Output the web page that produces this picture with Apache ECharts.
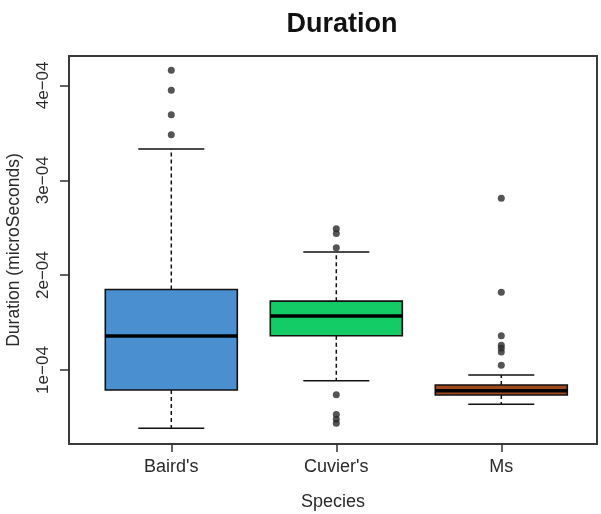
<!DOCTYPE html>
<html>
<head>
<meta charset="utf-8">
<title>Duration</title>
<script src="https://cdn.jsdelivr.net/npm/echarts@6/dist/echarts.min.js"></script>
<style>
  html, body { margin: 0; padding: 0; background: #fff; }
  #chart { width: 601px; height: 514px; }
</style>
</head>
<body>
<div id="chart"></div>
<script>
// Box-plot summary per species (seconds)
const categories = ["Baird's", "Cuvier's", "Ms"];
const whiskerLow  = [0.386e-4, 0.887e-4, 0.639e-4];
const lowerQuart  = [0.789e-4, 1.361e-4, 0.737e-4];
const medians     = [1.358e-4, 1.568e-4, 0.782e-4];
const upperQuart  = [1.849e-4, 1.726e-4, 0.842e-4];
const whiskerHigh = [3.330e-4, 2.245e-4, 0.947e-4];

// Points beyond the whiskers
const bairdsOutliers = [4.16e-4, 3.95e-4, 3.69e-4, 3.48e-4];
const cuviersOutliers = [2.49e-4, 2.44e-4, 2.29e-4, 0.74e-4, 0.53e-4, 0.48e-4, 0.44e-4];
const msOutliers = [2.81e-4, 1.82e-4, 1.36e-4, 1.26e-4, 1.23e-4, 1.19e-4, 1.05e-4];

// Y-axis tick values
const yTicks = [1e-4, 2e-4, 3e-4, 4e-4];

const boxColors = ['#4A8FCF', '#14CC66', '#A24A1F'];
const FONT = 'Liberation Sans, Arial, Helvetica, sans-serif';

// Category positions on a numeric x scale (1, 2, 3)
const xPositions = categories.map((_, i) => i + 1);

const boxData = categories.map((_, i) => [
  xPositions[i], whiskerLow[i], lowerQuart[i], medians[i], upperQuart[i], whiskerHigh[i], i
]);

const outlierData = [];
[bairdsOutliers, cuviersOutliers, msOutliers].forEach((arr, i) => {
  arr.forEach(v => outlierData.push([xPositions[i], v]));
});

const BOX_HALF = 0.4;
const CAP_HALF = 0.2;

function renderBox(params, api) {
  const x = api.value(0);
  const lo = api.value(1), q1 = api.value(2), med = api.value(3), q3 = api.value(4), hi = api.value(5);
  const idx = api.value(6);
  const left = api.coord([x - BOX_HALF, q1])[0];
  const right = api.coord([x + BOX_HALF, q1])[0];
  const capL = api.coord([x - CAP_HALF, q1])[0];
  const capR = api.coord([x + CAP_HALF, q1])[0];
  const cx = api.coord([x, q1])[0];
  const yLo = api.coord([x, lo])[1];
  const yQ1 = api.coord([x, q1])[1];
  const yMed = api.coord([x, med])[1];
  const yQ3 = api.coord([x, q3])[1];
  const yHi = api.coord([x, hi])[1];
  const dashStyle = { stroke: '#111', lineWidth: 1.5, lineDash: [4, 3] };
  const solid = { stroke: '#111', lineWidth: 1.5 };
  return {
    type: 'group',
    children: [
      { type: 'line', shape: { x1: cx, y1: yQ3, x2: cx, y2: yHi }, style: dashStyle },
      { type: 'line', shape: { x1: cx, y1: yQ1, x2: cx, y2: yLo }, style: dashStyle },
      { type: 'line', shape: { x1: capL, y1: yHi, x2: capR, y2: yHi }, style: solid },
      { type: 'line', shape: { x1: capL, y1: yLo, x2: capR, y2: yLo }, style: solid },
      { type: 'rect', shape: { x: left, y: yQ3, width: right - left, height: yQ1 - yQ3 },
        style: { fill: boxColors[idx], stroke: '#111', lineWidth: 1.6 } },
      { type: 'line', shape: { x1: left, y1: yMed, x2: right, y2: yMed },
        style: { stroke: '#000', lineWidth: 3.5 } }
    ]
  };
}

const chart = echarts.init(document.getElementById('chart'), null, { renderer: 'canvas' });

chart.setOption({
  animation: false,
  backgroundColor: '#fff',
  title: {
    text: 'Duration',
    left: 337,
    textAlign: 'center',
    top: 6,
    textStyle: { fontFamily: FONT, fontSize: 27, fontWeight: 'bold', color: '#111' }
  },
  grid: {
    left: 69, right: 4, top: 56, bottom: 70,
    containLabel: false,
    outerBoundsMode: 'none',
    show: true, borderColor: '#3a3a3a', borderWidth: 2, backgroundColor: 'transparent'
  },
  xAxis: {
    type: 'value',
    min: 0.38, max: 3.58,
    splitLine: { show: false },
    axisLine: { show: false },
    axisTick: { show: true, customValues: xPositions, length: 8, lineStyle: { color: '#333', width: 1.5 } },
    axisLabel: {
      customValues: xPositions,
      margin: 14,
      formatter: v => categories[Math.round(v) - 1] || '',
      fontFamily: FONT, fontSize: 18, color: '#2a2a2a'
    },
    name: 'Species',
    nameLocation: 'middle',
    nameGap: 49,
    nameTextStyle: { fontFamily: FONT, fontSize: 18, color: '#2a2a2a' }
  },
  yAxis: {
    type: 'value',
    min: 0.22e-4, max: 4.31e-4,
    splitLine: { show: false },
    axisLine: { show: false },
    axisTick: { show: true, customValues: yTicks, length: 9, lineStyle: { color: '#333', width: 1.5 } },
    axisLabel: {
      customValues: yTicks,
      rotate: 90,
      margin: 17,
      formatter: v => Math.round(v * 1e4) + 'e\u221204',
      fontFamily: FONT, fontSize: 17, color: '#2a2a2a'
    },
    name: 'Duration (microSeconds)',
    nameLocation: 'middle',
    nameRotate: 90,
    nameGap: 46,
    nameTextStyle: { fontFamily: FONT, fontSize: 17.5, color: '#2a2a2a' }
  },
  series: [
    {
      type: 'custom',
      renderItem: renderBox,
      data: boxData,
      encode: { x: 0, y: [1, 2, 3, 4, 5] },
      z: 2
    },
    {
      type: 'scatter',
      data: outlierData,
      symbol: 'circle',
      symbolSize: 7,
      itemStyle: { color: '#2b2b2b' },
      z: 3
    }
  ]
});
</script>
</body>
</html>
